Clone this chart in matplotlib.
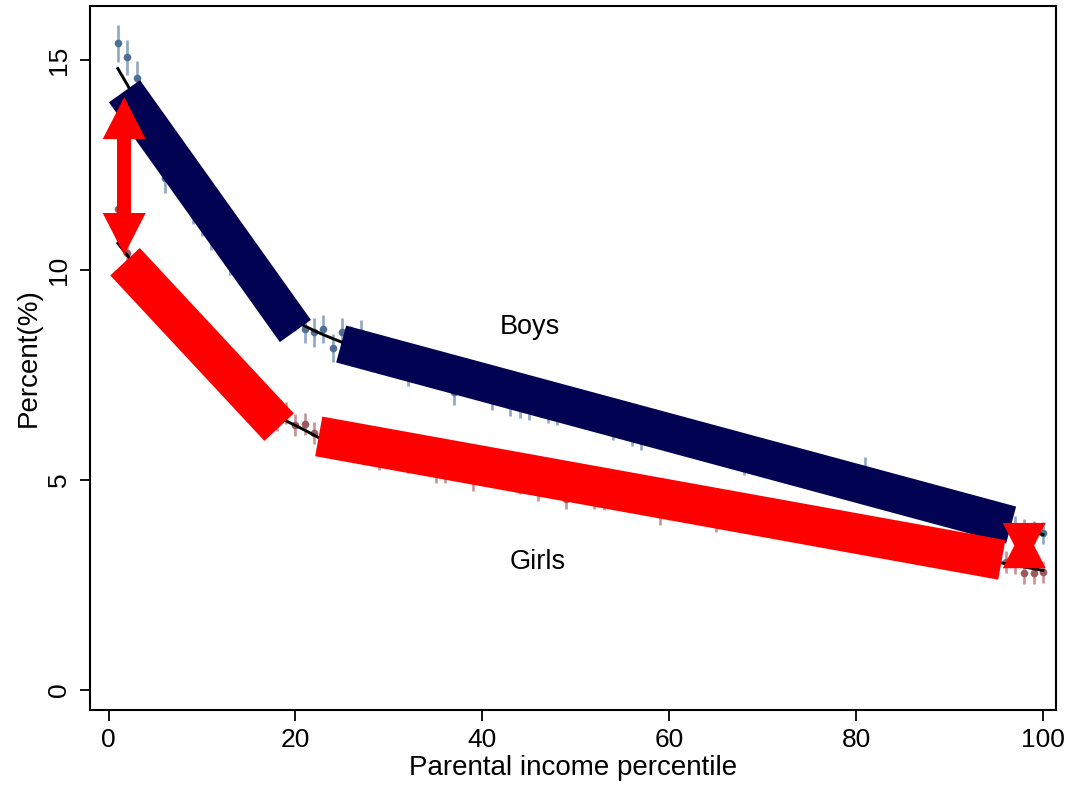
import matplotlib
matplotlib.use("Agg")
import matplotlib.pyplot as plt
import numpy as np

plt.rcParams['font.family'] = ['Liberation Sans', 'DejaVu Sans']

# ---------------- data ----------------
percentile = list(range(1, 101))

boys_rate = [
    15.40, 15.07, 14.57, 13.45, 13.05, 12.20, 12.45, 12.05, 11.44, 11.14,
    10.80, 10.85, 10.20, 10.25, 9.95, 9.65, 9.35, 9.05, 9.05, 8.85,
    8.60, 8.52, 8.60, 8.14, 8.52, 8.35, 8.50, 8.12, 8.00, 7.95,
    7.90, 7.55, 7.80, 7.70, 7.65, 7.60, 7.09, 7.45, 7.40, 7.35,
    6.96, 7.20, 6.82, 6.77, 6.73, 6.98, 6.66, 6.61, 6.80, 6.58,
    6.51, 6.60, 6.55, 6.25, 6.42, 6.11, 6.01, 6.24, 6.18, 6.12,
    6.06, 6.00, 5.95, 5.88, 5.82, 5.76, 5.70, 5.39, 5.58, 5.52,
    5.46, 5.40, 5.34, 5.28, 5.20, 5.15, 5.08, 5.02, 4.97, 4.90,
    5.24, 4.78, 4.72, 4.66, 4.60, 4.54, 4.48, 4.42, 4.36, 4.30,
    4.24, 4.18, 4.11, 4.05, 3.99, 3.93, 3.87, 3.81, 3.76, 3.74,
]
boys_err = [
    0.44, 0.42, 0.40, 0.38, 0.37, 0.36, 0.35, 0.34, 0.34, 0.33,
    0.33, 0.33, 0.32, 0.32, 0.32, 0.32, 0.31, 0.31, 0.31, 0.31,
    0.33, 0.34, 0.34, 0.33, 0.34, 0.31, 0.31, 0.30, 0.30, 0.30,
    0.30, 0.30, 0.30, 0.30, 0.30, 0.30, 0.30, 0.30, 0.30, 0.30,
    0.29, 0.29, 0.29, 0.29, 0.29, 0.29, 0.29, 0.29, 0.29, 0.29,
    0.29, 0.29, 0.29, 0.29, 0.29, 0.29, 0.29, 0.29, 0.29, 0.29,
    0.28, 0.28, 0.28, 0.28, 0.28, 0.28, 0.28, 0.28, 0.28, 0.28,
    0.28, 0.28, 0.28, 0.28, 0.28, 0.28, 0.28, 0.28, 0.28, 0.28,
    0.30, 0.28, 0.28, 0.28, 0.28, 0.28, 0.28, 0.28, 0.28, 0.28,
    0.27, 0.27, 0.27, 0.27, 0.27, 0.27, 0.27, 0.27, 0.27, 0.27,
]
girls_rate = [
    11.45, 10.40, 9.95, 9.60, 9.45, 9.10, 8.85, 8.70, 8.35, 8.15,
    7.90, 7.70, 7.45, 7.20, 6.95, 6.80, 6.60, 6.45, 6.60, 6.31,
    6.33, 6.12, 5.95, 5.93, 5.85, 5.86, 5.80, 5.74, 5.49, 5.68,
    5.62, 5.42, 5.56, 5.39, 5.20, 5.20, 5.40, 5.36, 5.01, 5.16,
    5.24, 5.20, 5.15, 4.94, 4.96, 4.77, 5.00, 4.95, 4.56, 4.88,
    4.83, 4.56, 4.54, 4.72, 4.68, 4.63, 4.60, 4.55, 4.20, 4.30,
    4.44, 4.39, 4.20, 4.32, 4.01, 4.24, 4.20, 4.15, 4.11, 4.07,
    4.03, 3.99, 3.95, 3.91, 3.86, 3.82, 3.78, 3.74, 3.70, 3.66,
    3.62, 3.58, 3.54, 3.50, 3.46, 3.42, 3.38, 3.34, 3.30, 3.26,
    3.22, 3.18, 3.14, 3.10, 3.06, 3.05, 3.03, 2.79, 2.79, 2.81,
]
girls_err = [
    0.30, 0.29, 0.29, 0.28, 0.28, 0.28, 0.27, 0.27, 0.27, 0.27,
    0.27, 0.27, 0.27, 0.27, 0.27, 0.27, 0.27, 0.27, 0.27, 0.26,
    0.26, 0.26, 0.26, 0.26, 0.26, 0.26, 0.26, 0.26, 0.26, 0.26,
    0.26, 0.26, 0.26, 0.26, 0.26, 0.26, 0.26, 0.26, 0.26, 0.26,
    0.26, 0.26, 0.26, 0.26, 0.26, 0.26, 0.26, 0.26, 0.26, 0.26,
    0.26, 0.26, 0.26, 0.26, 0.26, 0.26, 0.26, 0.26, 0.26, 0.26,
    0.25, 0.25, 0.25, 0.25, 0.25, 0.25, 0.25, 0.25, 0.25, 0.25,
    0.25, 0.25, 0.25, 0.25, 0.25, 0.25, 0.25, 0.25, 0.25, 0.25,
    0.25, 0.25, 0.25, 0.25, 0.25, 0.25, 0.25, 0.25, 0.25, 0.25,
    0.25, 0.25, 0.25, 0.25, 0.25, 0.26, 0.26, 0.26, 0.26, 0.26,
]

# fitted curves (read at knots)
boys_fit_x = list(range(1, 26)) + [100]
boys_fit_y = [14.80, 14.42, 14.00, 13.55, 13.10, 12.68, 12.28, 11.90, 11.53, 11.18,
              10.85, 10.53, 10.23, 9.95, 9.69, 9.46, 9.25, 9.07, 8.91, 8.78,
              8.67, 8.56, 8.46, 8.37, 8.28, 3.70]
girls_fit_x = list(range(1, 24)) + [100]
girls_fit_y = [10.64, 10.36, 10.05, 9.74, 9.43, 9.13, 8.84, 8.56, 8.29, 8.03,
               7.79, 7.56, 7.35, 7.15, 6.97, 6.81, 6.66, 6.53, 6.41, 6.30,
               6.19, 6.07, 5.95, 2.85]

# highlighted trend segments (start, end)
boys_trend_x = [[1.71, 20.0], [24.9, 96.6]]
boys_trend_y = [[14.26, 8.55], [8.24, 3.93]]
girls_trend_x = [[1.77, 18.26], [22.5, 95.6]]
girls_trend_y = [[10.20, 6.26], [6.04, 3.10]]

# gap arrows: x position, bottom tip, top tip
gap_arrow_x = [1.68, 98.0]
gap_arrow_y0 = [10.36, 2.98]
gap_arrow_y1 = [14.12, 3.90]

tick_x = [0, 20, 40, 60, 80, 100]
tick_y = [0, 5, 10, 15]

# ---------------- figure ----------------
fig = plt.figure(figsize=(10.69, 7.93), dpi=100)
ax = fig.add_axes([90 / 1069, 1 - 710 / 793, (1056 - 90) / 1069, (710 - 6) / 793])
ax.set_xlim(-1.98, 101.4)
ax.set_ylim(-0.476, 16.29)

boys_pt = '#4f7094'
boys_bar = '#8fa8c2'
girls_pt = '#9c5a5e'
girls_bar = '#c49499'

ax.errorbar(percentile, boys_rate, yerr=boys_err, fmt='none', ecolor=boys_bar,
            elinewidth=1.9, capsize=0, zorder=1)
ax.plot(percentile, boys_rate, 'o', color=boys_pt, ms=5.5, mew=0, zorder=2)
ax.errorbar(percentile, girls_rate, yerr=girls_err, fmt='none', ecolor=girls_bar,
            elinewidth=1.9, capsize=0, zorder=1)
ax.plot(percentile, girls_rate, 'o', color=girls_pt, ms=5.5, mew=0, zorder=2)

ax.plot(boys_fit_x, boys_fit_y, color='black', lw=2.1, zorder=3)
ax.plot(girls_fit_x, girls_fit_y, color='black', lw=2.1, zorder=3)

navy = '#020252'
for xs, ys in zip(boys_trend_x, boys_trend_y):
    ax.plot(xs, ys, color=navy, lw=27.5, solid_capstyle='butt', zorder=4)
for xs, ys in zip(girls_trend_x, girls_trend_y):
    ax.plot(xs, ys, color='#ff0000', lw=29, solid_capstyle='butt', zorder=5)

# double-headed arrows (head width/length in data units)
head_half_w = 2.3
shaft_half_w = 0.75
head_len = 1.0
for xc, y0, y1 in zip(gap_arrow_x, gap_arrow_y0, gap_arrow_y1):
    ax.fill([xc, xc + head_half_w, xc - head_half_w], [y1, y1 - head_len, y1 - head_len],
            color='#ff0000', lw=0, zorder=6)
    ax.fill([xc, xc + head_half_w, xc - head_half_w], [y0, y0 + head_len, y0 + head_len],
            color='#ff0000', lw=0, zorder=6)
    if y1 - y0 > 2 * head_len:
        ax.fill([xc - shaft_half_w, xc + shaft_half_w, xc + shaft_half_w, xc - shaft_half_w],
                [y0 + head_len, y0 + head_len, y1 - head_len, y1 - head_len],
                color='#ff0000', lw=0, zorder=6)

ax.text(45.1, 8.64, 'Boys', fontsize=19.5, ha='center', va='center', zorder=7)
ax.text(45.9, 3.05, 'Girls', fontsize=19.5, ha='center', va='center', zorder=7)

ax.set_xticks(tick_x)
ax.set_yticks(tick_y)
ax.set_xticklabels([str(t) for t in tick_x], fontsize=19)
ax.set_yticklabels([str(t) for t in tick_y], fontsize=19, rotation=90, va='center')
ax.tick_params(axis='x', length=8, width=1.3, pad=5)
ax.tick_params(axis='y', length=7.5, width=1.3, pad=6)
for s in ax.spines.values():
    s.set_linewidth(1.5)

ax.set_xlabel('Parental income percentile', fontsize=20, labelpad=2)
ax.set_ylabel('Percent(%)', fontsize=20, labelpad=4)

fig.savefig('out.png', dpi=100)
